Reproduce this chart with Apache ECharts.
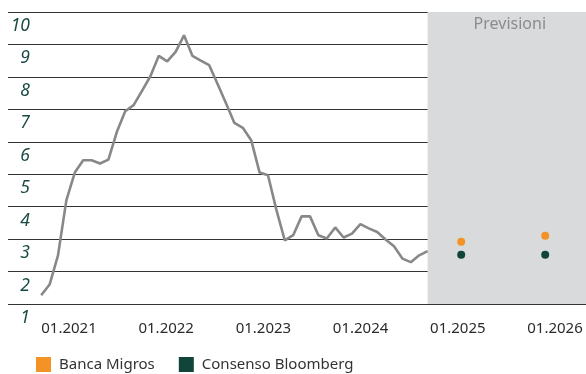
<!DOCTYPE html>
<html>
<head>
<meta charset="utf-8">
<script src="https://cdn.jsdelivr.net/npm/echarts@6/dist/echarts.min.js"></script>
<style>
  html, body { margin: 0; padding: 0; background: #fff; }
  #chart { width: 586px; height: 374px; }
</style>
</head>
<body>
<div id="chart"></div>
<script>
// Monthly history (year-month) and values
const histMonths = [
  '2021-01','2021-02','2021-03','2021-04','2021-05','2021-06','2021-07','2021-08','2021-09','2021-10','2021-11','2021-12',
  '2022-01','2022-02','2022-03','2022-04','2022-05','2022-06','2022-07','2022-08','2022-09','2022-10','2022-11','2022-12',
  '2023-01','2023-02','2023-03','2023-04','2023-05','2023-06','2023-07','2023-08','2023-09','2023-10','2023-11','2023-12',
  '2024-01','2024-02','2024-03','2024-04','2024-05','2024-06','2024-07','2024-08','2024-09','2024-10','2024-11'
];
const histValues = [
  1.27, 1.60, 2.50, 4.20, 5.05, 5.43, 5.43, 5.33, 5.45, 6.30, 6.94, 7.13,
  7.57, 8.02, 8.65, 8.48, 8.77, 9.28, 8.65, 8.50, 8.36, 7.78, 7.19, 6.58,
  6.43, 6.05, 5.05, 4.97, 3.90, 2.96, 3.12, 3.70, 3.70, 3.12, 3.02, 3.36,
  3.05, 3.17, 3.46, 3.33, 3.22, 2.99, 2.78, 2.40, 2.29, 2.50, 2.63
];

// Forecast points
const forecastMonths = ['2025-03', '2026-01'];
const migrosValues = [2.92, 3.10];
const bloombergValues = [2.52, 2.52];

// Axis labels
const yearTicks = [2021, 2022, 2023, 2024, 2025, 2026];
const yTicks = [1, 2, 3, 4, 5, 6, 7, 8, 9, 10];
const forecastLabel = 'Previsioni';
const seriesNames = ['Banca Migros', 'Consenso Bloomberg'];

// months counted from January 2021
function monthIndex(s) {
  const [y, m] = s.split('-').map(Number);
  return (y - 2021) * 12 + (m - 1);
}

const histData = histMonths.map((m, i) => [monthIndex(m), histValues[i]]);
const migrosData = forecastMonths.map((m, i) => [monthIndex(m), migrosValues[i]]);
const bloombergData = forecastMonths.map((m, i) => [monthIndex(m), bloombergValues[i]]);
const forecastStart = monthIndex(histMonths[histMonths.length - 1]);

const FONT = '"Noto Sans", sans-serif';
const chart = echarts.init(document.getElementById('chart'), null, { renderer: 'canvas' });

chart.setOption({
  animation: false,
  backgroundColor: '#ffffff',
  grid: { left: 8, right: 0, top: 12, bottom: 70, containLabel: false },
  legend: {
    data: seriesNames,
    left: 36,
    top: 357,
    icon: 'rect',
    itemWidth: 15,
    itemHeight: 15,
    itemGap: 24,
    padding: 0,
    textStyle: { fontFamily: FONT, fontSize: 15, color: '#333333', padding: [0, 0, 0, 3] }
  },
  xAxis: [
    {
      // time axis in months, carries the data
      type: 'value',
      min: -3.952,
      max: 64.857,
      show: false
    },
    {
      // calendar labels
      type: 'value',
      position: 'bottom',
      min: 2020.3724,
      max: 2026.3189,
      axisLine: { show: false },
      axisTick: { show: false },
      splitLine: { show: false },
      axisLabel: {
        customValues: yearTicks,
        formatter: v => '01.' + v,
        margin: 17,
        fontFamily: FONT,
        fontSize: 15,
        color: '#2b2b2b',
        showMinLabel: true,
        showMaxLabel: true
      }
    }
  ],
  yAxis: {
    type: 'value',
    min: yTicks[0],
    max: yTicks[yTicks.length - 1],
    interval: 1,
    z: 1,
    axisLine: { show: false },
    axisTick: { show: false },
    splitLine: { show: true, lineStyle: { color: '#333333', width: 1 } },
    axisLabel: {
      inside: true,
      align: 'right',
      verticalAlign: 'top',
      margin: 22,
      padding: [5, 0, 0, 0],
      fontFamily: FONT,
      fontStyle: 'italic',
      fontSize: 17.5,
      lineHeight: 18,
      color: '#1a4a44',
      showMinLabel: true,
      showMaxLabel: true
    }
  },
  series: [
    {
      // forecast period shading
      type: 'line',
      xAxisIndex: 0,
      data: [],
      z: 0,
      silent: true,
      markArea: {
        silent: true,
        itemStyle: { color: '#d9dadb' },
        label: {
          show: true,
          position: 'insideTop',
          distance: 4,
          formatter: forecastLabel,
          fontFamily: FONT,
          fontSize: 16,
          color: '#8c8c8c',
          offset: [3, 0]
        },
        data: [[{ xAxis: forecastStart }, { xAxis: 'max' }]]
      }
    },
    {
      type: 'line',
      xAxisIndex: 0,
      data: histData,
      z: 3,
      showSymbol: false,
      lineStyle: { color: '#888888', width: 2.6 },
      itemStyle: { color: '#888888' }
    },
    {
      name: seriesNames[0],
      type: 'scatter',
      xAxisIndex: 0,
      data: migrosData,
      z: 4,
      symbolSize: 8,
      itemStyle: { color: '#f39325', opacity: 1 }
    },
    {
      name: seriesNames[1],
      type: 'scatter',
      xAxisIndex: 0,
      data: bloombergData,
      z: 4,
      symbolSize: 8,
      itemStyle: { color: '#11443b', opacity: 1 }
    }
  ]
});
</script>
</body>
</html>
